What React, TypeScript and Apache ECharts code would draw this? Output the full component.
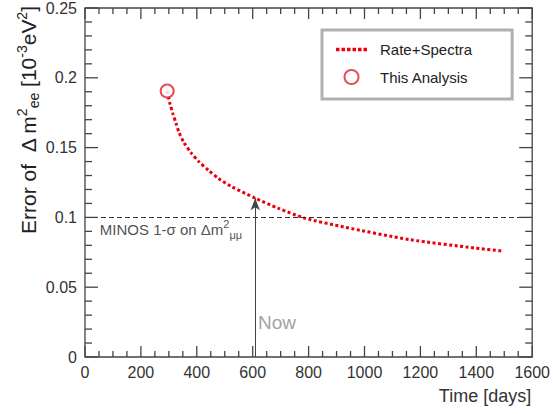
import React, { useEffect, useRef } from "react";
import * as echarts from "echarts";

const days = [294, 304, 315, 326, 336, 354, 379, 407, 443, 478, 524, 609, 690, 786, 927, 1161, 1398, 1494];
const errors = [0.1905, 0.1815, 0.174, 0.1672, 0.1611, 0.1536, 0.1464, 0.14, 0.1335, 0.1278, 0.1221, 0.1138, 0.1067, 0.0995, 0.0931, 0.0841, 0.078, 0.0759];
const analysisPoint = [294, 0.1905];
const minosLevel = 0.1;
const nowDay = 609;
const nowValue = 0.1138;
const xAxisRange = { min: 0, max: 1600, interval: 200, minorStep: 50 };
const yAxisRange = { min: 0, max: 0.25, interval: 0.05, minorStep: 0.01 };

const FONT = "Liberation Sans";
const AXIS = "#444";
const DOTS = "path://M0,0h3.5v3.5h-3.5z M5.5,0h3.5v3.5h-3.5z M11,0h3.5v3.5h-3.5z M16.5,0h3.5v3.5h-3.5z M22,0h3.5v3.5h-3.5z M27.5,0h3.5v3.5h-3.5z";

function tickList(r: { min: number; max: number; interval: number; minorStep: number }) {
  const out: number[][] = [];
  const n = Math.round((r.max - r.min) / r.minorStep);
  const per = Math.round(r.interval / r.minorStep);
  for (let i = 0; i <= n; i++) {
    out.push([+(r.min + i * r.minorStep).toFixed(6), i % per === 0 ? 1 : 0]);
  }
  return out;
}

const yTitle = {
  type: "text",
  x: 28,
  y: 6,
  rotation: Math.PI / 2,
  style: {
    text: "{a|Error of  Δ m}{s|2}{b|ee}{a| [10}{s|-3}{a|eV}{s|2}{a|]}",
    align: "right",
    verticalAlign: "middle",
    fill: "#222",
    rich: {
      a: { fontSize: 21, fontFamily: FONT, fill: "#222", lineHeight: 26, verticalAlign: "middle" },
      s: { fontSize: 14, fontFamily: FONT, fill: "#222", verticalAlign: "top", lineHeight: 26 },
      b: { fontSize: 14, fontFamily: FONT, fill: "#222", verticalAlign: "bottom", lineHeight: 26 },
    },
  },
};

export default function App() {
  const ref = useRef<HTMLDivElement>(null);
  useEffect(() => {
    if (!ref.current) return;
    const chart = echarts.init(ref.current, null, { renderer: "svg" });
    const fmt = (v: number) => String(v);
    chart.setOption({
      animation: false,
      backgroundColor: "#fff",
      textStyle: { fontFamily: FONT },
      grid: { left: 85, right: 15, top: 8, bottom: 57, show: true, borderColor: AXIS, borderWidth: 1.3, backgroundColor: "transparent" },
      xAxis: {
        type: "value",
        min: xAxisRange.min,
        max: xAxisRange.max,
        interval: xAxisRange.interval,
        position: "bottom",
        axisLine: { show: false, onZero: false },
        axisTick: { show: false },
        minorTick: { show: false },
        splitLine: { show: false },
        axisLabel: { fontSize: 16, color: "#333", margin: 7, fontFamily: FONT, formatter: fmt },
        name: "Time [days]",
        nameLocation: "end",
        nameGap: -1,
        nameTextStyle: { fontSize: 18, fontWeight: "normal", color: "#333", align: "right", verticalAlign: "top", padding: [30, 0, 0, 0], fontFamily: FONT },
      },
      yAxis: {
        type: "value",
        min: yAxisRange.min,
        max: yAxisRange.max,
        interval: yAxisRange.interval,
        position: "left",
        axisLine: { show: false, onZero: false },
        axisTick: { show: false },
        minorTick: { show: false },
        splitLine: { show: false },
        axisLabel: { fontSize: 16, color: "#333", margin: 8, fontFamily: FONT, formatter: fmt },
      },
      legend: {
        orient: "vertical",
        left: 322,
        top: 30,
        data: [
          { name: "Rate+Spectra", icon: DOTS },
          { name: "This Analysis" },
        ],
        backgroundColor: "#fff",
        borderColor: "#b0b0b0",
        borderWidth: 3,
        borderRadius: 0,
        padding: [12, 40, 14, 14],
        itemGap: 12,
        itemWidth: 31,
        itemHeight: 14,
        textStyle: { fontSize: 15, color: "#222", fontFamily: FONT, padding: [0, 0, 0, 8] },
      },
      graphic: [yTitle],
      series: [
        {
          name: "Rate+Spectra",
          type: "line",
          data: days.map((d, i) => [d, errors[i]]),
          smooth: 0.25,
          showSymbol: false,
          symbol: "none",
          color: "#e8000b",
          lineStyle: { color: "#e8000b", width: 3, type: [3, 2.5], cap: "butt" },
          z: 3,
          markLine: {
            silent: true,
            symbol: "none",
            lineStyle: { color: "#333", type: [5, 3], width: 1 },
            label: { show: false },
            data: [{ yAxis: minosLevel }],
          },
        },
        {
          name: "This Analysis",
          type: "scatter",
          data: [analysisPoint],
          symbol: "emptyCircle",
          symbolSize: 13,
          color: "#e0202c",
          itemStyle: { color: "#e0202c", borderWidth: 2 },
          z: 5,
        },
        {
          name: "now",
          type: "line",
          data: [],
          markLine: {
            silent: true,
            symbol: ["none", "arrow"],
            symbolSize: [7, 12],
            lineStyle: { color: "#444", type: "solid", width: 1 },
            label: { show: false },
            data: [[{ coord: [nowDay, 0] }, { coord: [nowDay, nowValue] }]],
          },
        },
        {
          name: "labels",
          type: "scatter",
          symbolSize: 0,
          silent: true,
          data: [
            { value: [53, 0.091], label: { show: true, position: "right", distance: 0, formatter: "{a|MINOS 1-σ on Δm}{s|2}{b|μμ}", rich: {
              a: { fontSize: 15, color: "#222", fontFamily: FONT, lineHeight: 22, verticalAlign: "middle" },
              s: { fontSize: 11, color: "#222", fontFamily: FONT, lineHeight: 22, verticalAlign: "top" },
              b: { fontSize: 11, color: "#222", fontFamily: FONT, lineHeight: 22, verticalAlign: "bottom" },
            } } },
            { value: [687, 0.025], label: { show: true, position: "inside", formatter: "Now", fontSize: 19, color: "#888", fontFamily: FONT } },
          ],
        },
      ],
    });

    // Tick marks drawn inward, positioned through the chart's own scales.
    const px = (x: number, y: number) => chart.convertToPixel({ gridIndex: 0 }, [x, y]) as number[];
    const tickEls: any[] = [];
    const seg = (x1: number, y1: number, x2: number, y2: number) => ({
      type: "line",
      silent: true,
      z: 10,
      shape: { x1, y1, x2, y2 },
      style: { stroke: AXIS, lineWidth: 1.3 },
    });
    tickList(xAxisRange).forEach(([v, m]) => {
      const len = m ? 11 : 6;
      const b = px(v, yAxisRange.min);
      const t = px(v, yAxisRange.max);
      tickEls.push(seg(b[0], b[1], b[0], b[1] - len));
      tickEls.push(seg(t[0], t[1], t[0], t[1] + len));
    });
    tickList(yAxisRange).forEach(([v, m]) => {
      const len = m ? 13 : 7;
      const l = px(xAxisRange.min, v);
      const r = px(xAxisRange.max, v);
      tickEls.push(seg(l[0], l[1], l[0] + len, l[1]));
      tickEls.push(seg(r[0], r[1], r[0] - len, r[1]));
    });
    chart.setOption({ graphic: [yTitle, ...tickEls] });

    return () => chart.dispose();
  }, []);
  return <div ref={ref} style={{ position: "fixed", left: 0, top: 0, width: 553, height: 414 }} />;
}
